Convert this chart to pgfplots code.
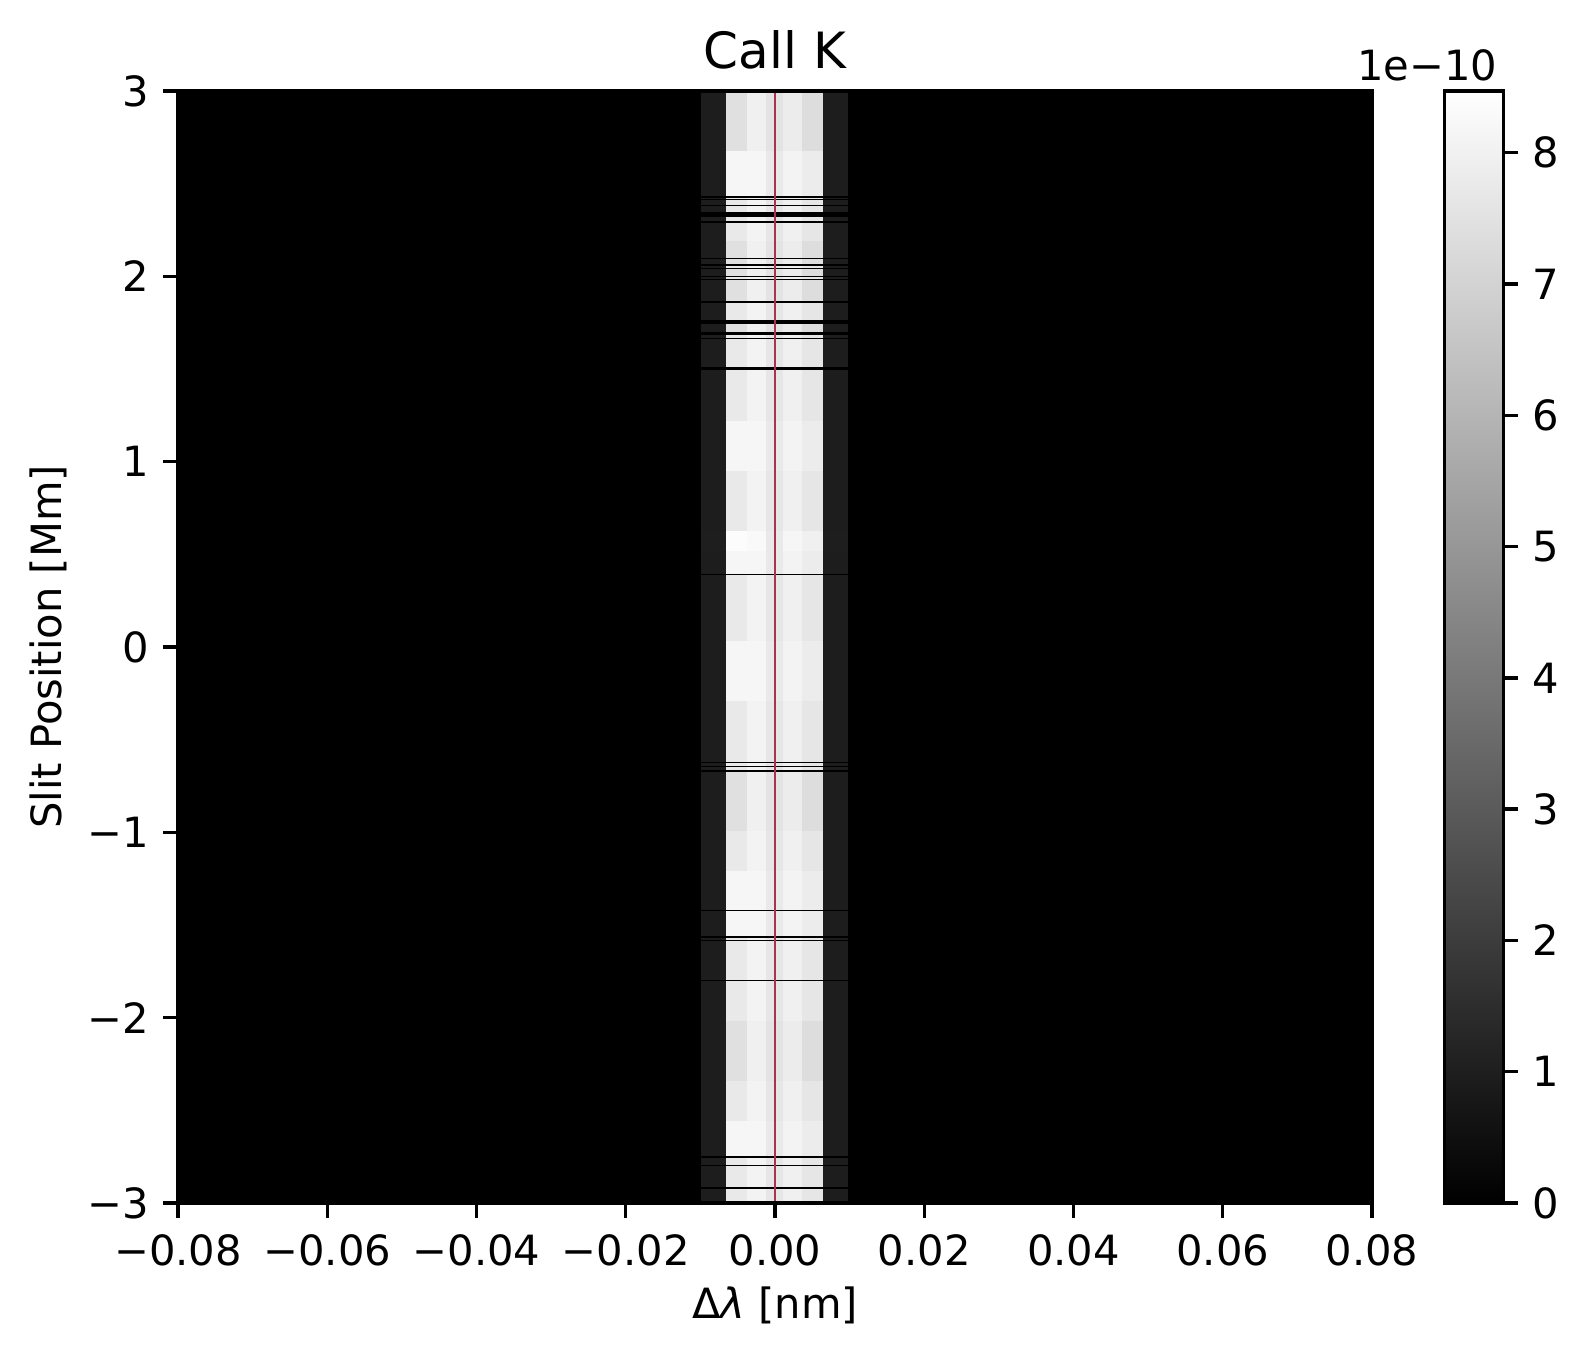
\documentclass[border=0pt]{standalone}
\usepackage{fontspec}
\setmainfont{DejaVu Sans}
\usepackage{pgfplots}
\pgfplotsset{compat=1.18}
\definecolor{redline}{RGB}{166,51,79}
\begin{document}
\begin{tikzpicture}
\begin{axis}[
  name=main,
  scale only axis,
  width=286.56pt, height=266.88pt,
  xmin=-0.08, xmax=0.08, ymin=-3, ymax=3,
  enlargelimits=false,
  axis on top,
  axis line style={line width=0.8pt},
  every tick/.style={black, line width=0.8pt},
  tick align=outside, major tick length=3.5pt,
  xtick pos=bottom, ytick pos=left,
  scaled x ticks=false, scaled y ticks=false,
  xtick={-0.08,-0.06,-0.04,-0.02,0,0.02,0.04,0.06,0.08},
  xticklabels={−0.08,−0.06,−0.04,−0.02,0.00,0.02,0.04,0.06,0.08},
  ytick={-3,-2,-1,0,1,2,3},
  yticklabels={−3,−2,−1,0,1,2,3},
  ticklabel style={font=\fontsize{10}{12}\selectfont},
  xticklabel style={yshift=-0.5pt},
  colormap={bw}{gray(0cm)=(0); gray(1cm)=(1)},
  point meta min=0, point meta max=8.47,
  colorbar,
  colorbar style={
    at={(parent axis.north east)}, anchor=north west, xshift=8.8pt,
    scale only axis, width=14.16pt, height=266.88pt,
    axis line style={line width=0.8pt},
    every tick/.style={black, line width=0.8pt},
    tick align=outside, major tick length=3.5pt,
    ytick pos=right, yticklabel pos=right,
    ytick={0,1,2,3,4,5,6,7,8},
    yticklabels={0,1,2,3,4,5,6,7,8},
    yticklabel style={font=\fontsize{10}{12}\selectfont},
  },
  title={Call K},
  title style={font=\fontsize{12}{14}\selectfont, at={(axis description cs:0.5,1.02)}, anchor=base, inner sep=0pt, yshift=-6pt},
  xlabel={Δ\textit{λ} [nm]},
  xlabel style={font=\fontsize{10}{12}\selectfont, at={(axis description cs:0.5,-0.1042)}, anchor=base},
  ylabel={Slit Position [Mm]},
  ylabel style={font=\fontsize{10}{12}\selectfont, at={(axis description cs:-0.1085,0.5)}, anchor=center},
]
\addplot[surf, shader=flat corner, mesh/cols=10, point meta=explicit, line width=0.05pt] coordinates {
(-0.08,-3.000) [0] (-0.0099,-3.000) [0.95] (-0.0066,-3.000) [7.7] (-0.0038,-3.000) [8.0] (-0.0012,-3.000) [7.6] (0.0011,-3.000) [7.9] (0.0036,-3.000) [7.6] (0.0064,-3.000) [0.95] (0.0098,-3.000) [0] (0.08,-3.000) [0]
(-0.08,-2.917) [0] (-0.0099,-2.917) [0] (-0.0066,-2.917) [0] (-0.0038,-2.917) [0] (-0.0012,-2.917) [0] (0.0011,-2.917) [0] (0.0036,-2.917) [0] (0.0064,-2.917) [0] (0.0098,-2.917) [0] (0.08,-2.917) [0]
(-0.08,-2.910) [0] (-0.0099,-2.910) [0.95] (-0.0066,-2.910) [7.7] (-0.0038,-2.910) [8.0] (-0.0012,-2.910) [7.6] (0.0011,-2.910) [7.9] (0.0036,-2.910) [7.6] (0.0064,-2.910) [0.95] (0.0098,-2.910) [0] (0.08,-2.910) [0]
(-0.08,-2.793) [0] (-0.0099,-2.793) [0] (-0.0066,-2.793) [0] (-0.0038,-2.793) [0] (-0.0012,-2.793) [0] (0.0011,-2.793) [0] (0.0036,-2.793) [0] (0.0064,-2.793) [0] (0.0098,-2.793) [0] (0.08,-2.793) [0]
(-0.08,-2.788) [0] (-0.0099,-2.788) [0.95] (-0.0066,-2.788) [7.7] (-0.0038,-2.788) [8.0] (-0.0012,-2.788) [7.6] (0.0011,-2.788) [7.9] (0.0036,-2.788) [7.6] (0.0064,-2.788) [0.95] (0.0098,-2.788) [0] (0.08,-2.788) [0]
(-0.08,-2.752) [0] (-0.0099,-2.752) [0] (-0.0066,-2.752) [0] (-0.0038,-2.752) [0] (-0.0012,-2.752) [0] (0.0011,-2.752) [0] (0.0036,-2.752) [0] (0.0064,-2.752) [0] (0.0098,-2.752) [0] (0.08,-2.752) [0]
(-0.08,-2.741) [0] (-0.0099,-2.741) [0.95] (-0.0066,-2.741) [8.1] (-0.0038,-2.741) [8.1] (-0.0012,-2.741) [7.7] (0.0011,-2.741) [8.0] (0.0036,-2.741) [7.8] (0.0064,-2.741) [0.95] (0.0098,-2.741) [0] (0.08,-2.741) [0]
(-0.08,-2.552) [0] (-0.0099,-2.552) [0.95] (-0.0066,-2.552) [7.7] (-0.0038,-2.552) [8.0] (-0.0012,-2.552) [7.6] (0.0011,-2.552) [7.9] (0.0036,-2.552) [7.6] (0.0064,-2.552) [0.95] (0.0098,-2.552) [0] (0.08,-2.552) [0]
(-0.08,-2.336) [0] (-0.0099,-2.336) [0.95] (-0.0066,-2.336) [7.4] (-0.0038,-2.336) [7.9] (-0.0012,-2.336) [7.5] (0.0011,-2.336) [7.8] (0.0036,-2.336) [7.3] (0.0064,-2.336) [0.95] (0.0098,-2.336) [0] (0.08,-2.336) [0]
(-0.08,-2.013) [0] (-0.0099,-2.013) [0.95] (-0.0066,-2.013) [7.7] (-0.0038,-2.013) [8.0] (-0.0012,-2.013) [7.6] (0.0011,-2.013) [7.9] (0.0036,-2.013) [7.6] (0.0064,-2.013) [0.95] (0.0098,-2.013) [0] (0.08,-2.013) [0]
(-0.08,-1.795) [0] (-0.0099,-1.795) [0] (-0.0066,-1.795) [0] (-0.0038,-1.795) [0] (-0.0012,-1.795) [0] (0.0011,-1.795) [0] (0.0036,-1.795) [0] (0.0064,-1.795) [0] (0.0098,-1.795) [0] (0.08,-1.795) [0]
(-0.08,-1.790) [0] (-0.0099,-1.790) [0.95] (-0.0066,-1.790) [7.7] (-0.0038,-1.790) [8.0] (-0.0012,-1.790) [7.6] (0.0011,-1.790) [7.9] (0.0036,-1.790) [7.6] (0.0064,-1.790) [0.95] (0.0098,-1.790) [0] (0.08,-1.790) [0]
(-0.08,-1.579) [0] (-0.0099,-1.579) [0] (-0.0066,-1.579) [0] (-0.0038,-1.579) [0] (-0.0012,-1.579) [0] (0.0011,-1.579) [0] (0.0036,-1.579) [0] (0.0064,-1.579) [0] (0.0098,-1.579) [0] (0.08,-1.579) [0]
(-0.08,-1.574) [0] (-0.0099,-1.574) [0.95] (-0.0066,-1.574) [7.7] (-0.0038,-1.574) [8.0] (-0.0012,-1.574) [7.6] (0.0011,-1.574) [7.9] (0.0036,-1.574) [7.6] (0.0064,-1.574) [0.95] (0.0098,-1.574) [0] (0.08,-1.574) [0]
(-0.08,-1.566) [0] (-0.0099,-1.566) [0] (-0.0066,-1.566) [0] (-0.0038,-1.566) [0] (-0.0012,-1.566) [0] (0.0011,-1.566) [0] (0.0036,-1.566) [0] (0.0064,-1.566) [0] (0.0098,-1.566) [0] (0.08,-1.566) [0]
(-0.08,-1.554) [0] (-0.0099,-1.554) [0.95] (-0.0066,-1.554) [8.1] (-0.0038,-1.554) [8.1] (-0.0012,-1.554) [7.7] (0.0011,-1.554) [8.0] (0.0036,-1.554) [7.8] (0.0064,-1.554) [0.95] (0.0098,-1.554) [0] (0.08,-1.554) [0]
(-0.08,-1.419) [0] (-0.0099,-1.419) [0] (-0.0066,-1.419) [0] (-0.0038,-1.419) [0] (-0.0012,-1.419) [0] (0.0011,-1.419) [0] (0.0036,-1.419) [0] (0.0064,-1.419) [0] (0.0098,-1.419) [0] (0.08,-1.419) [0]
(-0.08,-1.414) [0] (-0.0099,-1.414) [0.95] (-0.0066,-1.414) [8.1] (-0.0038,-1.414) [8.1] (-0.0012,-1.414) [7.7] (0.0011,-1.414) [8.0] (0.0036,-1.414) [7.8] (0.0064,-1.414) [0.95] (0.0098,-1.414) [0] (0.08,-1.414) [0]
(-0.08,-1.203) [0] (-0.0099,-1.203) [0.95] (-0.0066,-1.203) [7.7] (-0.0038,-1.203) [8.0] (-0.0012,-1.203) [7.6] (0.0011,-1.203) [7.9] (0.0036,-1.203) [7.6] (0.0064,-1.203) [0.95] (0.0098,-1.203) [0] (0.08,-1.203) [0]
(-0.08,-0.987) [0] (-0.0099,-0.987) [0.95] (-0.0066,-0.987) [7.4] (-0.0038,-0.987) [7.9] (-0.0012,-0.987) [7.5] (0.0011,-0.987) [7.8] (0.0036,-0.987) [7.3] (0.0064,-0.987) [0.95] (0.0098,-0.987) [0] (0.08,-0.987) [0]
(-0.08,-0.667) [0] (-0.0099,-0.667) [0] (-0.0066,-0.667) [0] (-0.0038,-0.667) [0] (-0.0012,-0.667) [0] (0.0011,-0.667) [0] (0.0036,-0.667) [0] (0.0064,-0.667) [0] (0.0098,-0.667) [0] (0.08,-0.667) [0]
(-0.08,-0.658) [0] (-0.0099,-0.658) [0.95] (-0.0066,-0.658) [7.7] (-0.0038,-0.658) [8.0] (-0.0012,-0.658) [7.6] (0.0011,-0.658) [7.9] (0.0036,-0.658) [7.6] (0.0064,-0.658) [0.95] (0.0098,-0.658) [0] (0.08,-0.658) [0]
(-0.08,-0.644) [0] (-0.0099,-0.644) [0] (-0.0066,-0.644) [0] (-0.0038,-0.644) [0] (-0.0012,-0.644) [0] (0.0011,-0.644) [0] (0.0036,-0.644) [0] (0.0064,-0.644) [0] (0.0098,-0.644) [0] (0.08,-0.644) [0]
(-0.08,-0.637) [0] (-0.0099,-0.637) [0.95] (-0.0066,-0.637) [7.7] (-0.0038,-0.637) [8.0] (-0.0012,-0.637) [7.6] (0.0011,-0.637) [7.9] (0.0036,-0.637) [7.6] (0.0064,-0.637) [0.95] (0.0098,-0.637) [0] (0.08,-0.637) [0]
(-0.08,-0.620) [0] (-0.0099,-0.620) [0] (-0.0066,-0.620) [0] (-0.0038,-0.620) [0] (-0.0012,-0.620) [0] (0.0011,-0.620) [0] (0.0036,-0.620) [0] (0.0064,-0.620) [0] (0.0098,-0.620) [0] (0.08,-0.620) [0]
(-0.08,-0.614) [0] (-0.0099,-0.614) [0.95] (-0.0066,-0.614) [7.7] (-0.0038,-0.614) [8.0] (-0.0012,-0.614) [7.6] (0.0011,-0.614) [7.9] (0.0036,-0.614) [7.6] (0.0064,-0.614) [0.95] (0.0098,-0.614) [0] (0.08,-0.614) [0]
(-0.08,-0.286) [0] (-0.0099,-0.286) [0.95] (-0.0066,-0.286) [8.1] (-0.0038,-0.286) [8.1] (-0.0012,-0.286) [7.7] (0.0011,-0.286) [8.0] (0.0036,-0.286) [7.8] (0.0064,-0.286) [0.95] (0.0098,-0.286) [0] (0.08,-0.286) [0]
(-0.08,0.038) [0] (-0.0099,0.038) [0.95] (-0.0066,0.038) [7.7] (-0.0038,0.038) [8.0] (-0.0012,0.038) [7.6] (0.0011,0.038) [7.9] (0.0036,0.038) [7.6] (0.0064,0.038) [0.95] (0.0098,0.038) [0] (0.08,0.038) [0]
(-0.08,0.394) [0] (-0.0099,0.394) [0] (-0.0066,0.394) [0] (-0.0038,0.394) [0] (-0.0012,0.394) [0] (0.0011,0.394) [0] (0.0036,0.394) [0] (0.0064,0.394) [0] (0.0098,0.394) [0] (0.08,0.394) [0]
(-0.08,0.401) [0] (-0.0099,0.401) [0.95] (-0.0066,0.401) [8.1] (-0.0038,0.401) [8.1] (-0.0012,0.401) [7.7] (0.0011,0.401) [8.0] (0.0036,0.401) [7.8] (0.0064,0.401) [0.95] (0.0098,0.401) [0] (0.08,0.401) [0]
(-0.08,0.523) [0] (-0.0099,0.523) [1.0] (-0.0066,0.523) [8.3] (-0.0038,0.523) [8.2] (-0.0012,0.523) [7.7] (0.0011,0.523) [8.1] (0.0036,0.523) [7.9] (0.0064,0.523) [1.0] (0.0098,0.523) [0] (0.08,0.523) [0]
(-0.08,0.631) [0] (-0.0099,0.631) [0.95] (-0.0066,0.631) [7.7] (-0.0038,0.631) [8.0] (-0.0012,0.631) [7.6] (0.0011,0.631) [7.9] (0.0036,0.631) [7.6] (0.0064,0.631) [0.95] (0.0098,0.631) [0] (0.08,0.631) [0]
(-0.08,0.955) [0] (-0.0099,0.955) [0.95] (-0.0066,0.955) [8.1] (-0.0038,0.955) [8.1] (-0.0012,0.955) [7.7] (0.0011,0.955) [8.0] (0.0036,0.955) [7.8] (0.0064,0.955) [0.95] (0.0098,0.955) [0] (0.08,0.955) [0]
(-0.08,1.225) [0] (-0.0099,1.225) [0.95] (-0.0066,1.225) [7.7] (-0.0038,1.225) [8.0] (-0.0012,1.225) [7.6] (0.0011,1.225) [7.9] (0.0036,1.225) [7.6] (0.0064,1.225) [0.95] (0.0098,1.225) [0] (0.08,1.225) [0]
(-0.08,1.502) [0] (-0.0099,1.502) [0] (-0.0066,1.502) [0] (-0.0038,1.502) [0] (-0.0012,1.502) [0] (0.0011,1.502) [0] (0.0036,1.502) [0] (0.0064,1.502) [0] (0.0098,1.502) [0] (0.08,1.502) [0]
(-0.08,1.516) [0] (-0.0099,1.516) [0.95] (-0.0066,1.516) [7.7] (-0.0038,1.516) [8.0] (-0.0012,1.516) [7.6] (0.0011,1.516) [7.9] (0.0036,1.516) [7.6] (0.0064,1.516) [0.95] (0.0098,1.516) [0] (0.08,1.516) [0]
(-0.08,1.667) [0] (-0.0099,1.667) [0] (-0.0066,1.667) [0] (-0.0038,1.667) [0] (-0.0012,1.667) [0] (0.0011,1.667) [0] (0.0036,1.667) [0] (0.0064,1.667) [0] (0.0098,1.667) [0] (0.08,1.667) [0]
(-0.08,1.674) [0] (-0.0099,1.674) [0.95] (-0.0066,1.674) [7.7] (-0.0038,1.674) [8.0] (-0.0012,1.674) [7.6] (0.0011,1.674) [7.9] (0.0036,1.674) [7.6] (0.0064,1.674) [0.95] (0.0098,1.674) [0] (0.08,1.674) [0]
(-0.08,1.687) [0] (-0.0099,1.687) [0] (-0.0066,1.687) [0] (-0.0038,1.687) [0] (-0.0012,1.687) [0] (0.0011,1.687) [0] (0.0036,1.687) [0] (0.0064,1.687) [0] (0.0098,1.687) [0] (0.08,1.687) [0]
(-0.08,1.707) [0] (-0.0099,1.707) [0.95] (-0.0066,1.707) [7.4] (-0.0038,1.707) [7.9] (-0.0012,1.707) [7.5] (0.0011,1.707) [7.8] (0.0036,1.707) [7.3] (0.0064,1.707) [0.95] (0.0098,1.707) [0] (0.08,1.707) [0]
(-0.08,1.750) [0] (-0.0099,1.750) [0] (-0.0066,1.750) [0] (-0.0038,1.750) [0] (-0.0012,1.750) [0] (0.0011,1.750) [0] (0.0036,1.750) [0] (0.0064,1.750) [0] (0.0098,1.750) [0] (0.08,1.750) [0]
(-0.08,1.770) [0] (-0.0099,1.770) [0.95] (-0.0066,1.770) [7.7] (-0.0038,1.770) [8.0] (-0.0012,1.770) [7.6] (0.0011,1.770) [7.9] (0.0036,1.770) [7.6] (0.0064,1.770) [0.95] (0.0098,1.770) [0] (0.08,1.770) [0]
(-0.08,1.863) [0] (-0.0099,1.863) [0] (-0.0066,1.863) [0] (-0.0038,1.863) [0] (-0.0012,1.863) [0] (0.0011,1.863) [0] (0.0036,1.863) [0] (0.0064,1.863) [0] (0.0098,1.863) [0] (0.08,1.863) [0]
(-0.08,1.872) [0] (-0.0099,1.872) [0.95] (-0.0066,1.872) [7.4] (-0.0038,1.872) [7.9] (-0.0012,1.872) [7.5] (0.0011,1.872) [7.8] (0.0036,1.872) [7.3] (0.0064,1.872) [0.95] (0.0098,1.872) [0] (0.08,1.872) [0]
(-0.08,1.987) [0] (-0.0099,1.987) [0] (-0.0066,1.987) [0] (-0.0038,1.987) [0] (-0.0012,1.987) [0] (0.0011,1.987) [0] (0.0036,1.987) [0] (0.0064,1.987) [0] (0.0098,1.987) [0] (0.08,1.987) [0]
(-0.08,1.993) [0] (-0.0099,1.993) [0.95] (-0.0066,1.993) [7.7] (-0.0038,1.993) [8.0] (-0.0012,1.993) [7.6] (0.0011,1.993) [7.9] (0.0036,1.993) [7.6] (0.0064,1.993) [0.95] (0.0098,1.993) [0] (0.08,1.993) [0]
(-0.08,2.002) [0] (-0.0099,2.002) [0] (-0.0066,2.002) [0] (-0.0038,2.002) [0] (-0.0012,2.002) [0] (0.0011,2.002) [0] (0.0036,2.002) [0] (0.0064,2.002) [0] (0.0098,2.002) [0] (0.08,2.002) [0]
(-0.08,2.007) [0] (-0.0099,2.007) [0.95] (-0.0066,2.007) [7.4] (-0.0038,2.007) [7.9] (-0.0012,2.007) [7.5] (0.0011,2.007) [7.8] (0.0036,2.007) [7.3] (0.0064,2.007) [0.95] (0.0098,2.007) [0] (0.08,2.007) [0]
(-0.08,2.047) [0] (-0.0099,2.047) [0] (-0.0066,2.047) [0] (-0.0038,2.047) [0] (-0.0012,2.047) [0] (0.0011,2.047) [0] (0.0036,2.047) [0] (0.0064,2.047) [0] (0.0098,2.047) [0] (0.08,2.047) [0]
(-0.08,2.052) [0] (-0.0099,2.052) [0.95] (-0.0066,2.052) [7.7] (-0.0038,2.052) [8.0] (-0.0012,2.052) [7.6] (0.0011,2.052) [7.9] (0.0036,2.052) [7.6] (0.0064,2.052) [0.95] (0.0098,2.052) [0] (0.08,2.052) [0]
(-0.08,2.063) [0] (-0.0099,2.063) [0] (-0.0066,2.063) [0] (-0.0038,2.063) [0] (-0.0012,2.063) [0] (0.0011,2.063) [0] (0.0036,2.063) [0] (0.0064,2.063) [0] (0.0098,2.063) [0] (0.08,2.063) [0]
(-0.08,2.070) [0] (-0.0099,2.070) [0.95] (-0.0066,2.070) [7.4] (-0.0038,2.070) [7.9] (-0.0012,2.070) [7.5] (0.0011,2.070) [7.8] (0.0036,2.070) [7.3] (0.0064,2.070) [0.95] (0.0098,2.070) [0] (0.08,2.070) [0]
(-0.08,2.097) [0] (-0.0099,2.097) [0] (-0.0066,2.097) [0] (-0.0038,2.097) [0] (-0.0012,2.097) [0] (0.0011,2.097) [0] (0.0036,2.097) [0] (0.0064,2.097) [0] (0.0098,2.097) [0] (0.08,2.097) [0]
(-0.08,2.106) [0] (-0.0099,2.106) [0.95] (-0.0066,2.106) [7.4] (-0.0038,2.106) [7.9] (-0.0012,2.106) [7.5] (0.0011,2.106) [7.8] (0.0036,2.106) [7.3] (0.0064,2.106) [0.95] (0.0098,2.106) [0] (0.08,2.106) [0]
(-0.08,2.196) [0] (-0.0099,2.196) [0.95] (-0.0066,2.196) [7.7] (-0.0038,2.196) [8.0] (-0.0012,2.196) [7.6] (0.0011,2.196) [7.9] (0.0036,2.196) [7.6] (0.0064,2.196) [0.95] (0.0098,2.196) [0] (0.08,2.196) [0]
(-0.08,2.293) [0] (-0.0099,2.293) [0] (-0.0066,2.293) [0] (-0.0038,2.293) [0] (-0.0012,2.293) [0] (0.0011,2.293) [0] (0.0036,2.293) [0] (0.0064,2.293) [0] (0.0098,2.293) [0] (0.08,2.293) [0]
(-0.08,2.304) [0] (-0.0099,2.304) [0.95] (-0.0066,2.304) [7.7] (-0.0038,2.304) [8.0] (-0.0012,2.304) [7.6] (0.0011,2.304) [7.9] (0.0036,2.304) [7.6] (0.0064,2.304) [0.95] (0.0098,2.304) [0] (0.08,2.304) [0]
(-0.08,2.326) [0] (-0.0099,2.326) [0] (-0.0066,2.326) [0] (-0.0038,2.326) [0] (-0.0012,2.326) [0] (0.0011,2.326) [0] (0.0036,2.326) [0] (0.0064,2.326) [0] (0.0098,2.326) [0] (0.08,2.326) [0]
(-0.08,2.353) [0] (-0.0099,2.353) [0.95] (-0.0066,2.353) [7.7] (-0.0038,2.353) [8.0] (-0.0012,2.353) [7.6] (0.0011,2.353) [7.9] (0.0036,2.353) [7.6] (0.0064,2.353) [0.95] (0.0098,2.353) [0] (0.08,2.353) [0]
(-0.08,2.385) [0] (-0.0099,2.385) [0] (-0.0066,2.385) [0] (-0.0038,2.385) [0] (-0.0012,2.385) [0] (0.0011,2.385) [0] (0.0036,2.385) [0] (0.0064,2.385) [0] (0.0098,2.385) [0] (0.08,2.385) [0]
(-0.08,2.390) [0] (-0.0099,2.390) [0.95] (-0.0066,2.390) [7.7] (-0.0038,2.390) [8.0] (-0.0012,2.390) [7.6] (0.0011,2.390) [7.9] (0.0036,2.390) [7.6] (0.0064,2.390) [0.95] (0.0098,2.390) [0] (0.08,2.390) [0]
(-0.08,2.416) [0] (-0.0099,2.416) [0] (-0.0066,2.416) [0] (-0.0038,2.416) [0] (-0.0012,2.416) [0] (0.0011,2.416) [0] (0.0036,2.416) [0] (0.0064,2.416) [0] (0.0098,2.416) [0] (0.08,2.416) [0]
(-0.08,2.421) [0] (-0.0099,2.421) [0.95] (-0.0066,2.421) [7.7] (-0.0038,2.421) [8.0] (-0.0012,2.421) [7.6] (0.0011,2.421) [7.9] (0.0036,2.421) [7.6] (0.0064,2.421) [0.95] (0.0098,2.421) [0] (0.08,2.421) [0]
(-0.08,2.428) [0] (-0.0099,2.428) [0] (-0.0066,2.428) [0] (-0.0038,2.428) [0] (-0.0012,2.428) [0] (0.0011,2.428) [0] (0.0036,2.428) [0] (0.0064,2.428) [0] (0.0098,2.428) [0] (0.08,2.428) [0]
(-0.08,2.439) [0] (-0.0099,2.439) [0.95] (-0.0066,2.439) [8.1] (-0.0038,2.439) [8.1] (-0.0012,2.439) [7.7] (0.0011,2.439) [8.0] (0.0036,2.439) [7.8] (0.0064,2.439) [0.95] (0.0098,2.439) [0] (0.08,2.439) [0]
(-0.08,2.682) [0] (-0.0099,2.682) [0.95] (-0.0066,2.682) [7.4] (-0.0038,2.682) [7.9] (-0.0012,2.682) [7.5] (0.0011,2.682) [7.8] (0.0036,2.682) [7.3] (0.0064,2.682) [0.95] (0.0098,2.682) [0] (0.08,2.682) [0]
(-0.08,3.000) [0] (-0.0099,3.000) [0] (-0.0066,3.000) [0] (-0.0038,3.000) [0] (-0.0012,3.000) [0] (0.0011,3.000) [0] (0.0036,3.000) [0] (0.0064,3.000) [0] (0.0098,3.000) [0] (0.08,3.000) [0]
};
\addplot[color=redline, line width=0.6pt] coordinates {(0,-3) (0,3)};
\end{axis}
\node[anchor=base east, inner sep=0pt, font=\fontsize{10}{12}\selectfont] at (316.8pt,269.5pt) {1e−10};
\pgfresetboundingbox
\useasboundingbox (-42.72pt,-37.92pt) rectangle (337.68pt,288.72pt);
\end{tikzpicture}
\end{document}
